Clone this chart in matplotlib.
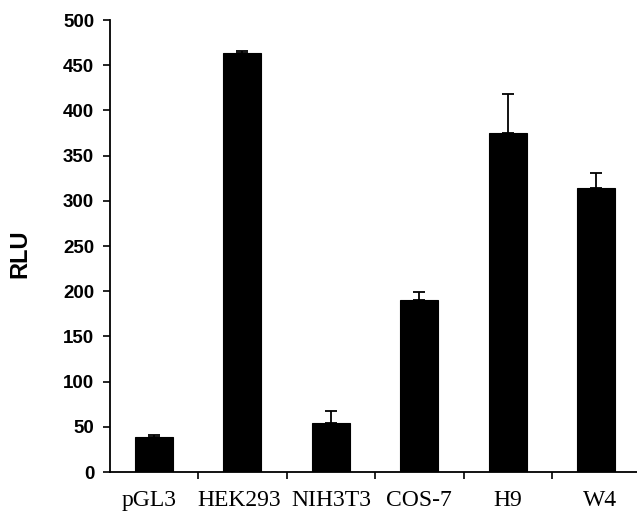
import matplotlib.pyplot as plt
import matplotlib.transforms as mtransforms
import numpy as np

# values
cell_lines = ['pGL3', 'HEK293', 'NIH3T3', 'COS-7', 'H9', 'W4']
rlu = [39, 464, 54, 190, 375, 314]
rlu_err = [2, 1.5, 13, 9, 43, 17]
y_ticks = [0, 50, 100, 150, 200, 250, 300, 350, 400, 450, 500]

fig = plt.figure(figsize=(6.37, 5.13), dpi=100)
ax = fig.add_axes([0.1719, 0.0799, 0.8336, 0.881])

x = np.arange(len(cell_lines))
ax.bar(x, rlu, width=0.43, color='black', edgecolor='black', linewidth=0.8,
       yerr=[np.zeros(len(rlu)), rlu_err], capsize=4.5,
       error_kw=dict(ecolor='black', elinewidth=1.3, capthick=1.3))

ax.set_xlim(-0.5, 5.5)
ax.set_ylim(0, 500)
ax.set_yticks(y_ticks)
ax.set_yticklabels([str(v) for v in y_ticks], fontfamily='Liberation Sans',
                   fontweight='bold', fontsize=13.5)

# category labels centred, tick marks between categories
ax.set_xticks(x)
ax.set_xticklabels(cell_lines, fontfamily='Liberation Serif', fontsize=17)
ax.set_xticks(x[:-1] + 0.5, minor=True)
ax.tick_params(axis='x', which='major', length=0, pad=13)
ax.tick_params(axis='x', which='minor', length=5, width=1.2, direction='out')
ax.tick_params(axis='y', length=5, width=1.2, direction='out', pad=6)

# the original labels sit a little off-centre at the ends
nudge = [-5, -3, 1, 0, 0, 4]
for lab, dx in zip(ax.get_xticklabels(), nudge):
    lab.set_transform(lab.get_transform() +
                      mtransforms.ScaledTranslation(dx / 100, 0, fig.dpi_scale_trans))

ax.set_ylabel('RLU', fontfamily='Liberation Sans', fontweight='bold', fontsize=17)
ax.yaxis.set_label_coords(-0.148, 0.483)

for side in ['top', 'right']:
    ax.spines[side].set_visible(False)
for side in ['left', 'bottom']:
    ax.spines[side].set_linewidth(1.3)

fig.savefig('out.png', dpi=100)
